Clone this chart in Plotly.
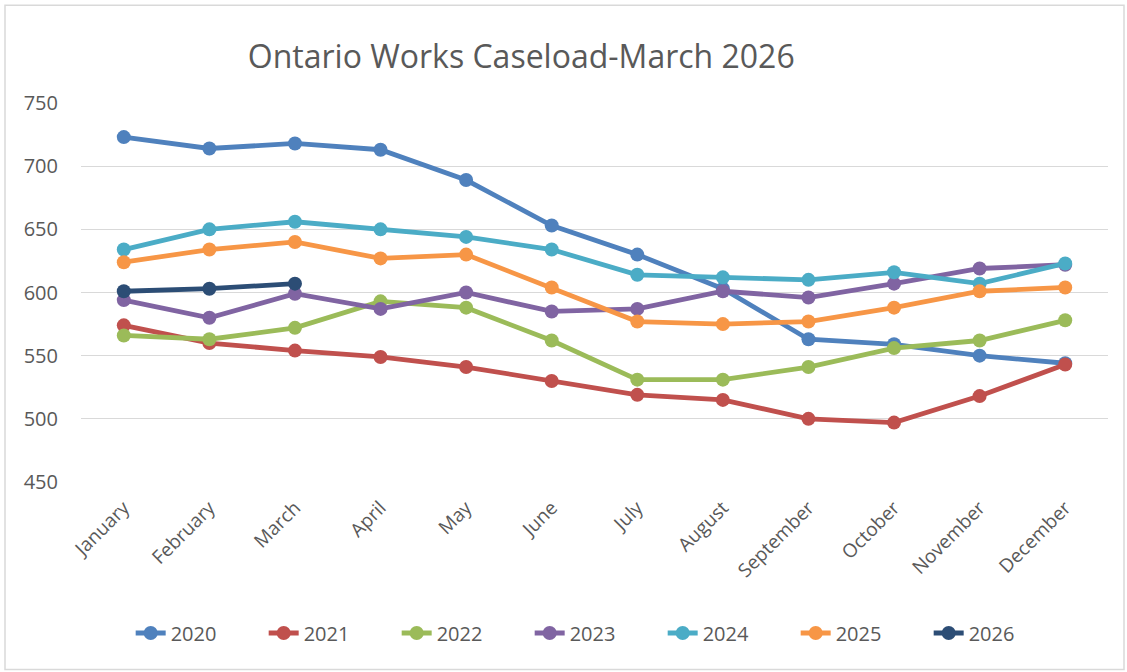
import plotly.graph_objects as go

months = ["January", "February", "March", "April", "May", "June", "July",
          "August", "September", "October", "November", "December"]

y2020 = [723, 714, 718, 713, 689, 653, 630, 603, 563, 559, 550, 544]
y2021 = [574, 560, 554, 549, 541, 530, 519, 515, 500, 497, 518, 543]
y2022 = [566, 563, 572, 593, 588, 562, 531, 531, 541, 556, 562, 578]
y2023 = [594, 580, 599, 587, 600, 585, 587, 601, 596, 607, 619, 622]
y2024 = [634, 650, 656, 650, 644, 634, 614, 612, 610, 616, 607, 623]
y2025 = [624, 634, 640, 627, 630, 604, 577, 575, 577, 588, 601, 604]
y2026 = [601, 603, 607]

series = [
    ("2020", y2020, "#4F81BD"),
    ("2021", y2021, "#C0504D"),
    ("2022", y2022, "#9BBB59"),
    ("2023", y2023, "#8064A2"),
    ("2024", y2024, "#4BACC6"),
    ("2025", y2025, "#F79646"),
    ("2026", y2026, "#2C4D75"),
]

FONT = "Open Sans"
GRAY = "#595959"

fig = go.Figure()
for name, vals, color in series:
    fig.add_trace(go.Scatter(
        x=months[:len(vals)], y=vals, name=name, mode="lines+markers",
        line=dict(color=color, width=4.8),
        marker=dict(color=color, size=14),
    ))

fig.update_layout(
    width=1127, height=672,
    margin=dict(l=81, r=19, t=103, b=190),
    paper_bgcolor="white", plot_bgcolor="white",
    font=dict(family=FONT, color=GRAY),
    title=dict(text="Ontario Works Caseload-March 2026",
               font=dict(family=FONT, size=32, color=GRAY),
               x=0.4625, xref="container", xanchor="center",
               y=1 - 57 / 672, yref="container", yanchor="middle"),
    xaxis=dict(type="category", categoryorder="array", categoryarray=months,
               range=[-0.5, 11.5], showgrid=False, zeroline=False,
               showline=False, tickangle=-45, ticklabelstandoff=10,
               tickfont=dict(family=FONT, size=19, color=GRAY)),
    yaxis=dict(range=[450, 750], dtick=50, tick0=450, showgrid=True,
               gridcolor="#d9d9d9", gridwidth=1.3, zeroline=False,
               showline=False, ticklabelstandoff=22,
               tickfont=dict(family=FONT, size=20, color=GRAY)),
    legend=dict(orientation="h", xref="container", x=0.529, xanchor="center",
                yref="container", y=1 - 633 / 672, yanchor="middle",
                font=dict(family=FONT, size=20, color=GRAY),
                entrywidth=88, entrywidthmode="pixels", bgcolor="rgba(0,0,0,0)"),
    showlegend=True,
    shapes=[dict(type="rect", xref="paper", yref="paper",
                 x0=(5 - 81) / 1027, x1=(1124 - 81) / 1027,
                 y0=(482 - 670) / 380, y1=(482 - 4) / 380,
                 line=dict(color="#d9d9d9", width=1.5), fillcolor="rgba(0,0,0,0)",
                 layer="below")],
)

fig.write_html("out.html")
